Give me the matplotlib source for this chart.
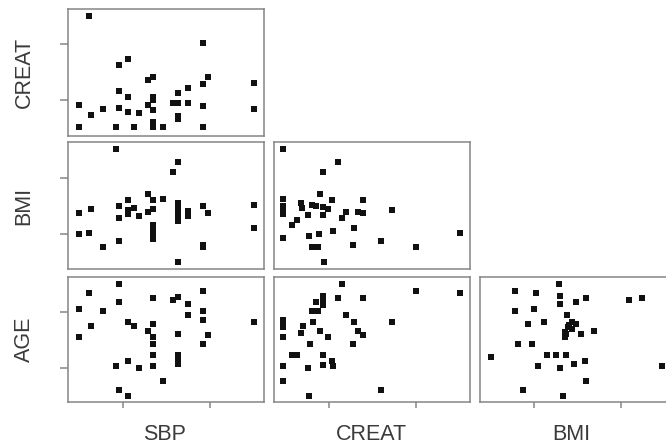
import matplotlib
matplotlib.use("Agg")
import matplotlib.pyplot as plt

plt.rcParams["font.family"] = ["Liberation Sans", "DejaVu Sans"]

# variable ranges (R pairs style, 4% padding) and tick positions
LIMS = {
    "SBP":   (114.85, 204.35),
    "CREAT": (0.366, 2.618),
    "BMI":   (21.87, 33.21),
    "AGE":   (27.86, 72.50),
}
TICKS = {
    "SBP":   [140, 180],
    "CREAT": [1.0, 2.0],
    "BMI":   [25, 30],
    "AGE":   [40, 60],
}

# SBP vs CREAT
sbp_1 = [124.7, 176.6, 138.2, 142.7, 151.6, 154.1, 178.9, 176.6, 199.8, 138.2,
         142.7, 165.4, 169.8, 154.1, 154.1, 120.2, 131.2, 138.2, 142.7, 147.3,
         151.6, 154.1, 163.0, 164.2, 165.4, 169.8, 176.6, 199.8, 125.6, 165.4,
         165.4, 154.1, 154.1, 120.2, 137.0, 145.0, 154.1, 158.6, 176.6]
creat_1 = [2.50, 2.01, 1.62, 1.74, 1.36, 1.41, 1.41, 1.28, 1.31, 1.17,
           1.06, 1.12, 1.22, 1.06, 1.00, 0.91, 0.85, 0.87, 0.79, 0.78,
           0.91, 0.82, 0.95, 0.955, 0.96, 0.95, 0.89, 0.85, 0.73, 0.72,
           0.66, 0.62, 0.55, 0.52, 0.52, 0.52, 0.52, 0.52, 0.52]

# SBP vs BMI
sbp_2 = [137.0, 165.4, 163.0, 151.6, 142.7, 154.1, 158.6, 138.2, 145.0, 142.7,
         142.7, 154.1, 151.6, 125.6, 120.2, 138.2, 147.3, 165.4, 165.4, 165.4,
         165.4, 165.4, 169.8, 169.8, 176.6, 178.9, 199.8, 199.8, 120.2, 124.7,
         154.1, 154.1, 154.1, 154.1, 138.2, 131.2, 176.6, 176.6, 165.4]
bmi_2 = [32.61, 31.42, 30.50, 28.60, 28.03, 28.03, 28.15, 27.52, 27.35, 27.14,
         26.81, 27.26, 26.99, 27.26, 26.87, 26.45, 26.57, 27.76, 27.36, 26.97,
         26.58, 26.19, 27.02, 26.57, 27.46, 26.87, 27.58, 25.53, 25.02, 25.11,
         25.83, 25.41, 24.99, 24.58, 24.37, 23.86, 24.04, 23.80, 22.52]

# CREAT vs BMI
creat_3 = [0.476, 1.108, 0.930, 0.899, 0.476, 1.034, 1.395, 0.686, 0.697, 0.476,
           0.476, 0.476, 0.813, 0.852, 0.930, 0.988, 0.930, 0.767, 1.197, 1.337,
           1.395, 1.732, 1.151, 0.635, 0.581, 1.286, 1.046, 0.887, 0.779, 0.476,
           1.601, 1.279, 0.813, 0.883, 2.004, 2.504, 0.941]
bmi_3 = [32.61, 31.42, 30.53, 28.57, 28.15, 28.06, 28.03, 27.79, 27.32, 27.52,
         27.17, 26.81, 27.58, 27.52, 27.38, 27.20, 26.72, 26.72, 26.96, 26.99,
         26.87, 27.14, 26.42, 26.27, 25.77, 25.53, 25.26, 25.02, 24.85, 24.64,
         24.37, 24.04, 23.83, 23.83, 23.83, 25.11, 22.52]

# SBP vs AGE
sbp_4 = [138.2, 124.7, 176.6, 138.2, 154.1, 163.0, 165.4, 169.8, 120.2, 131.2,
         176.6, 169.8, 176.6, 199.8, 125.6, 142.7, 145.0, 154.1, 151.6, 154.1,
         120.2, 165.4, 178.9, 154.1, 176.6, 154.1, 165.4, 165.4, 165.4, 142.7,
         137.0, 147.3, 154.1, 158.6, 138.2, 142.7]
age_4 = [70.12, 66.67, 67.38, 63.45, 64.88, 64.29, 65.36, 62.74, 60.95, 60.36,
         60.36, 58.81, 57.02, 56.31, 54.88, 56.31, 54.88, 55.60, 53.10, 51.07,
         51.07, 52.26, 51.67, 48.45, 48.45, 44.53, 44.76, 43.57, 41.31, 42.38,
         40.72, 39.88, 40.72, 35.24, 32.03, 29.88]

# CREAT vs AGE
creat_5 = [1.155, 1.104, 1.395, 2.004, 2.504, 0.938, 0.938, 0.938, 0.852, 0.813,
           0.883, 1.201, 0.476, 0.476, 0.476, 0.701, 0.817, 1.290, 1.732, 0.686,
           0.899, 1.337, 1.395, 0.992, 0.476, 1.279, 0.783, 0.581, 0.635, 0.938,
           1.034, 1.046, 0.938, 0.476, 0.759, 0.476, 1.601, 0.771]
age_5 = [70.12, 64.88, 64.88, 67.38, 66.67, 65.60, 63.93, 62.38, 63.57, 60.24,
         60.24, 58.81, 57.26, 55.95, 54.64, 55.00, 56.31, 56.31, 56.31, 52.38,
         53.10, 53.10, 51.67, 50.95, 51.07, 48.45, 48.45, 44.53, 44.53, 44.53,
         42.50, 40.72, 41.19, 40.72, 40.00, 35.24, 32.03, 30.00]

# BMI vs AGE
bmi_6 = [26.42, 23.87, 25.13, 26.51, 27.98, 27.42, 26.51, 30.47, 31.23, 23.87,
         25.00, 26.92, 24.66, 25.57, 27.17, 27.45, 26.98, 26.79, 26.79, 27.00,
         26.85, 27.20, 27.70, 28.49, 24.06, 24.87, 22.51, 25.72, 26.25, 26.87,
         25.23, 26.47, 27.32, 27.94, 32.40, 28.02, 24.38, 26.70]
age_6 = [70.12, 67.38, 66.79, 65.60, 65.00, 63.45, 62.74, 64.41, 65.00, 60.36,
         61.07, 58.81, 55.60, 56.31, 56.43, 55.83, 54.64, 52.86, 51.07, 55.50,
         52.00, 54.00, 52.26, 53.10, 48.45, 48.45, 43.93, 44.53, 44.53, 44.53,
         40.72, 39.88, 41.31, 42.38, 40.72, 35.24, 32.03, 29.88]

PANELS = [
    (0, 0, "SBP", "CREAT", sbp_1, creat_1),
    (1, 0, "SBP", "BMI", sbp_2, bmi_2),
    (1, 1, "CREAT", "BMI", creat_3, bmi_3),
    (2, 0, "SBP", "AGE", sbp_4, age_4),
    (2, 1, "CREAT", "AGE", creat_5, age_5),
    (2, 2, "BMI", "AGE", bmi_6, age_6),
]

W, H = 666, 445
col_left = [67.5, 273.5, 480]
col_w = 196
row_top = [9, 142, 277]
row_h = [127, 127, 125]

BOX = "#858585"
TXT = "#3a3a3a"

fig = plt.figure(figsize=(W / 100, H / 100), dpi=100)

for row, col, xv, yv, xs, ys in PANELS:
    rect = [col_left[col] / W, 1 - (row_top[row] + row_h[row]) / H,
            col_w / W, row_h[row] / H]
    ax = fig.add_axes(rect)
    ax.scatter(xs, ys, s=20, marker="s", color="#111111", linewidths=0)
    ax.set_xlim(*LIMS[xv])
    ax.set_ylim(*LIMS[yv])
    ax.set_xticks(TICKS[xv])
    ax.set_yticks(TICKS[yv])
    for sp in ax.spines.values():
        sp.set_color(BOX)
        sp.set_linewidth(1.1)
    ax.tick_params(axis="both", colors=BOX, width=1.1,
                   labelleft=False, labelbottom=False)
    ax.tick_params(axis="y", length=6, left=(col == 0))
    ax.tick_params(axis="x", length=4.5, bottom=(row == 2))

# variable names
for row, name in enumerate(["CREAT", "BMI", "AGE"]):
    yc = row_top[row] + row_h[row] / 2
    fig.text(24 / W, 1 - yc / H, name, rotation=90, ha="center", va="center",
             fontsize=15.5, color=TXT)
for x_px, name in zip([165, 371, 571], ["SBP", "CREAT", "BMI"]):
    fig.text(x_px / W, 1 - 434 / H, name, ha="center", va="center",
             fontsize=15.5, color=TXT)

fig.savefig("out.png", dpi=100)
